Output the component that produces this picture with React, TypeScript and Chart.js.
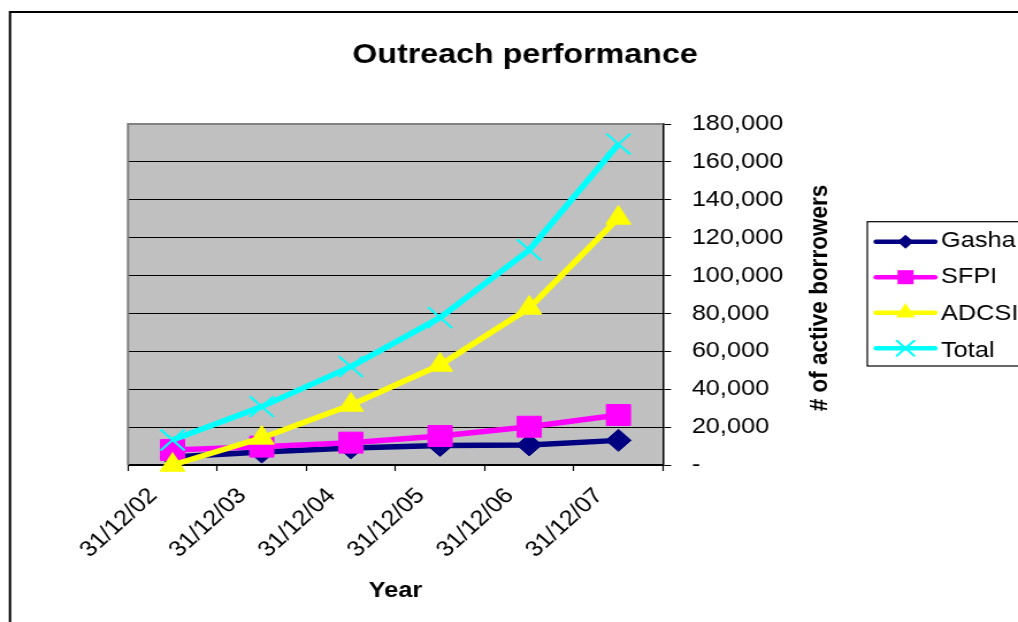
import React, { useEffect, useRef } from 'react';
import { Chart, registerables } from 'chart.js';

Chart.register(...registerables);

// ---------- data ----------
const categories = ['31/12/02', '31/12/03', '31/12/04', '31/12/05', '31/12/06', '31/12/07'];
const gasha = [4200, 6800, 9000, 10300, 10600, 13000];
const sfpi = [7900, 9700, 11800, 15300, 20200, 26400];
const adcsi = [0, 14300, 31700, 52800, 82900, 130400];
const total = [13200, 30800, 51900, 77800, 113500, 169400];
const yTickValues = [0, 20000, 40000, 60000, 80000, 100000, 120000, 140000, 160000, 180000];
const chartTitle = 'Outreach performance';
const xTitle = 'Year';
const yTitle = '# of active borrowers';

// ---------- layout ----------
const CSS_W = 1018;
const CSS_H = 622;
const STRETCH = 1.15;
const W = Math.round(CSS_W / STRETCH);
const ix = (cssX: number) => (cssX * W) / CSS_W;
const FONT = '"Liberation Sans", Arial, Helvetica, sans-serif';

const PLOT_LEFT = ix(128);
const PLOT_RIGHT = ix(663);
const PLOT_TOP = 124;
const PLOT_BOTTOM = 465;
const Y_AXIS_W = 120;

function drawMarker(ctx: CanvasRenderingContext2D, style: string, x: number, y: number, r: number, color: string) {
  ctx.save();
  ctx.fillStyle = color;
  ctx.strokeStyle = color;
  ctx.beginPath();
  if (style === 'rectRot') {
    ctx.moveTo(x - r, y);
    ctx.lineTo(x, y - r);
    ctx.lineTo(x + r, y);
    ctx.lineTo(x, y + r);
    ctx.closePath();
    ctx.fill();
  } else if (style === 'rect') {
    ctx.fillRect(x - r, y - r, 2 * r, 2 * r);
  } else if (style === 'triangle') {
    ctx.moveTo(x, y - r);
    ctx.lineTo(x + 0.866 * r, y + 0.5 * r);
    ctx.lineTo(x - 0.866 * r, y + 0.5 * r);
    ctx.closePath();
    ctx.fill();
  } else {
    ctx.lineWidth = 2;
    ctx.moveTo(x - r, y - r);
    ctx.lineTo(x + r, y + r);
    ctx.moveTo(x + r, y - r);
    ctx.lineTo(x - r, y + r);
    ctx.stroke();
  }
  ctx.restore();
}

const legendMarkerSize: Record<string, number> = { rectRot: 7, rect: 7, triangle: 9.6, crossRot: 7.5 };

const decorPlugin = {
  id: 'decor',
  beforeDraw(chart: any) {
    const { ctx, chartArea: a } = chart;
    ctx.save();
    ctx.fillStyle = '#ffffff';
    ctx.fillRect(0, 0, chart.width, chart.height);
    ctx.fillStyle = '#C0C0C0';
    ctx.fillRect(a.left, a.top, a.right - a.left, a.bottom - a.top);
    ctx.strokeStyle = '#000';
    ctx.lineWidth = 2;
    ctx.strokeRect(ix(10), 12, chart.width + 60, chart.height + 60);
    ctx.restore();
  },
  beforeDatasetsDraw(chart: any) {
    const { ctx, chartArea: a } = chart;
    ctx.save();
    ctx.strokeStyle = '#808080';
    ctx.lineWidth = 2;
    ctx.beginPath();
    ctx.moveTo(a.left, a.bottom);
    ctx.lineTo(a.left, a.top);
    ctx.lineTo(a.right, a.top);
    ctx.stroke();
    ctx.restore();
  },
  afterDraw(chart: any) {
    const { ctx, chartArea: a } = chart;
    ctx.save();
    ctx.fillStyle = '#000';
    // title
    ctx.font = `bold 28px ${FONT}`;
    ctx.textAlign = 'center';
    ctx.textBaseline = 'alphabetic';
    ctx.fillText(chartTitle, ix(525), 62.5);
    // x title
    ctx.font = `bold 22px ${FONT}`;
    ctx.fillText(xTitle, (a.left + a.right) / 2, 597);
    // y title
    ctx.save();
    ctx.translate(ix(827), 298);
    ctx.rotate(-Math.PI / 2);
    ctx.font = `bold 22.5px ${FONT}`;
    ctx.textAlign = 'center';
    ctx.fillText(yTitle, 0, 0);
    ctx.restore();
    // legend
    const boxL = ix(867.3);
    ctx.strokeStyle = '#000';
    ctx.lineWidth = 1.2;
    ctx.strokeRect(boxL, 221.7, chart.width, 144.3);
    chart.data.datasets.forEach((ds: any, i: number) => {
      const ly = 241.7 + 35.5 * i;
      ctx.strokeStyle = ds.borderColor;
      ctx.lineWidth = 4.5;
      ctx.lineCap = 'round';
      ctx.beginPath();
      ctx.moveTo(ix(876), ly);
      ctx.lineTo(ix(935), ly);
      ctx.stroke();
      drawMarker(ctx, ds.pointStyle, ix(905.5), ly, legendMarkerSize[ds.pointStyle] || 6, ds.borderColor);
      ctx.fillStyle = '#000';
      ctx.font = `22px ${FONT}`;
      ctx.textAlign = 'left';
      ctx.textBaseline = 'alphabetic';
      ctx.fillText(ds.label, ix(941), 246.7 + 36.6 * i);
    });
    ctx.restore();
  },
};

const seriesStyle = [
  { label: 'Gasha', data: gasha, color: '#000080', pointStyle: 'rectRot', radius: 11, order: 4, pbw: 1 },
  { label: 'SFPI', data: sfpi, color: '#FF00FF', pointStyle: 'rect', radius: 14.8, order: 3, pbw: 1 },
  { label: 'ADCSI', data: adcsi, color: '#FFFF00', pointStyle: 'triangle', radius: 12.5, order: 2, pbw: 1 },
  { label: 'Total', data: total, color: '#00FFFF', pointStyle: 'crossRot', radius: 14.8, order: 1, pbw: 2 },
];

export default function App() {
  const ref = useRef<HTMLCanvasElement>(null);

  useEffect(() => {
    if (!ref.current) return;
    const chart = new Chart(ref.current, {
      type: 'line',
      data: {
        labels: categories,
        datasets: seriesStyle.map((s) => ({
          label: s.label,
          data: s.data,
          borderColor: s.color,
          backgroundColor: s.color,
          borderWidth: 5.5,
          borderJoinStyle: 'round' as any,
          pointStyle: s.pointStyle as any,
          pointRadius: s.radius,
          pointBackgroundColor: s.color,
          pointBorderColor: s.color,
          pointBorderWidth: s.pbw,
          tension: 0,
          order: s.order,
          clip: false as any,
          fill: false,
        })),
      },
      options: {
        responsive: false,
        animation: false,
        devicePixelRatio: 1,
        events: [],
        layout: {
          padding: {
            left: PLOT_LEFT,
            top: PLOT_TOP,
            right: W - PLOT_RIGHT - Y_AXIS_W,
            bottom: 0,
          },
        },
        plugins: {
          legend: { display: false },
          title: { display: false },
          tooltip: { enabled: false },
        },
        scales: {
          x: {
            type: 'category',
            offset: true,
            grid: {
              display: true,
              drawOnChartArea: false,
              drawTicks: true,
              tickLength: 6,
              tickColor: '#000',
              tickWidth: 1.2,
              offset: true,
            },
            border: { display: true, color: '#000', width: 1.5 },
            ticks: {
              autoSkip: false,
              minRotation: 46,
              maxRotation: 46,
              color: '#000',
              font: { family: FONT, size: 22 },
              padding: 12,
              labelOffset: -17,
            },
            afterFit: (s: any) => {
              s.height = CSS_H - PLOT_BOTTOM;
            },
          },
          y: {
            position: 'right',
            min: 0,
            max: 180000,
            afterBuildTicks: (s: any) => {
              s.ticks = yTickValues.map((v) => ({ value: v }));
            },
            ticks: {
              color: '#000',
              font: { family: FONT, size: 22 },
              padding: 18,
              crossAlign: 'near',
              callback: (v: any) => (Number(v) === 0 ? '-' : Number(v).toLocaleString('en-US')),
            },
            grid: {
              color: '#000',
              lineWidth: 1,
              drawTicks: true,
              tickLength: 7,
              tickColor: '#000',
            },
            border: { display: true, color: '#000', width: 1.5 },
            afterFit: (s: any) => {
              s.width = Y_AXIS_W;
            },
          },
        },
      },
      plugins: [decorPlugin],
    });
    return () => chart.destroy();
  }, []);

  return (
    <div style={{ position: 'absolute', left: 0, top: 0, width: CSS_W, height: CSS_H, overflow: 'hidden', background: '#fff' }}>
      <canvas
        ref={ref}
        width={W}
        height={CSS_H}
        style={{ width: `${CSS_W}px`, height: `${CSS_H}px`, display: 'block' }}
      />
    </div>
  );
}
